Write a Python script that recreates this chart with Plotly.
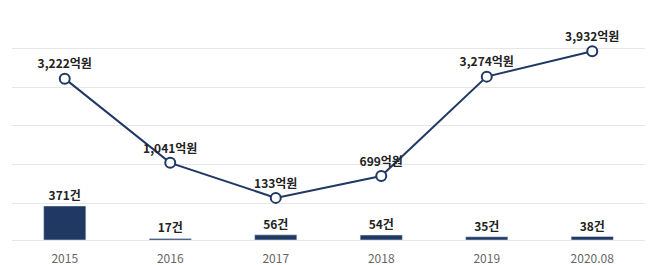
import plotly.graph_objects as go

categories = ["2015", "2016", "2017", "2018", "2019", "2020.08"]
amount = [3222, 1041, 133, 699, 3274, 3932]          # 억원
count = [371, 17, 56, 54, 35, 38]                    # 건
amount_labels = [f"{v:,}억원" for v in amount]
count_labels = [f"{v}건" for v in count]

NAVY = "#1f3864"
FONT = "Noto Sans CJK KR"

fig = go.Figure()
fig.add_trace(go.Bar(
    x=categories, y=count, yaxis="y2",
    marker=dict(color=NAVY), width=0.4,
    text=count_labels, textposition="outside", cliponaxis=False,
    textfont=dict(family=FONT, size=12, color="#222222", weight=600),
))
fig.add_trace(go.Scatter(
    x=categories, y=amount, mode="lines+markers+text",
    line=dict(color=NAVY, width=2),
    marker=dict(size=10, color="white", line=dict(color=NAVY, width=2)),
    text=amount_labels, textposition="top center", cliponaxis=False,
    textfont=dict(family=FONT, size=12, color="#222222", weight=600),
))

fig.update_layout(
    width=658, height=265,
    margin=dict(l=12, r=13, t=9, b=25, autoexpand=False),
    paper_bgcolor="white", plot_bgcolor="white",
    showlegend=False,
    font=dict(family=FONT),
    xaxis=dict(type="category", showgrid=False, showline=True, linecolor="#e6e6e6",
               linewidth=1, ticks="", ticklabelstandoff=8, automargin=False,
               tickfont=dict(size=12, color="#666666")),
    yaxis=dict(range=[-958, 5026], dtick=1000, tick0=0, showticklabels=False,
               showgrid=True, gridcolor="#e6e6e6", gridwidth=1, zeroline=False,
               automargin=False),
    yaxis2=dict(range=[0, 2520], overlaying="y", showgrid=False,
                showticklabels=False, zeroline=False, automargin=False),
)

fig.write_html("out.html")
